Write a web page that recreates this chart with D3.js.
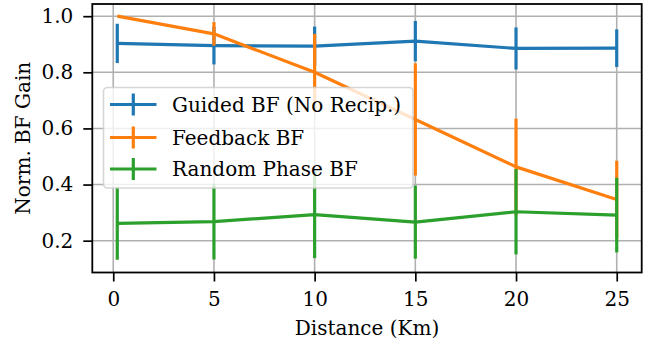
<!DOCTYPE html>
<html>
<head>
<meta charset="utf-8">
<script src="https://cdn.jsdelivr.net/npm/d3@7"></script>
<style>
  body { margin: 0; background: #fff; }
  svg { display: block; }
  svg text { font-family: "DejaVu Serif", serif !important; }
</style>
</head>
<body>
<div id="chart"></div>
<script>
// Data
const distances = [0.2, 5, 10, 15, 20, 25];
const xTicks = [0, 5, 10, 15, 20, 25];
const yTicks = [0.2, 0.4, 0.6, 0.8, 1.0];

const seriesNames = ["Guided BF (No Recip.)", "Feedback BF", "Random Phase BF"];
const seriesColors = ["#1f77b4", "#ff7f0e", "#2ca02c"];

const guidedMean = [0.903, 0.895, 0.893, 0.911, 0.885, 0.886];
const guidedErr = [0.070, 0.067, 0.070, 0.072, 0.075, 0.067];
const feedbackMean = [1.000, 0.937, 0.800, 0.632, 0.463, 0.347];
const feedbackErr = [0.000, 0.042, 0.137, 0.200, 0.172, 0.138];
const randomMean = [0.262, 0.268, 0.293, 0.266, 0.303, 0.291];
const randomErr = [0.130, 0.135, 0.155, 0.130, 0.152, 0.133];

const means = [guidedMean, feedbackMean, randomMean];
const errs = [guidedErr, feedbackErr, randomErr];

// layout
const W = 655, H = 345;
const plot = { left: 92.3, right: 641.7, top: 4, bottom: 272.5 };
const fontSize = 20;

const svg = d3.select("#chart").append("svg")
  .attr("width", W)
  .attr("height", H);

const x = d3.scaleLinear().domain([-1.04, 26.24]).range([plot.left, plot.right]);
const y = d3.scaleLinear().domain([0.0866, 1.0434]).range([plot.bottom, plot.top]);

// grid
const grid = svg.append("g");
grid.selectAll(".gx").data(xTicks).join("line")
  .attr("x1", d => x(d)).attr("x2", d => x(d))
  .attr("y1", plot.top).attr("y2", plot.bottom)
  .attr("stroke", "#b0b0b0").attr("stroke-width", 1.6);
grid.selectAll(".gy").data(yTicks).join("line")
  .attr("x1", plot.left).attr("x2", plot.right)
  .attr("y1", d => y(d)).attr("y2", d => y(d))
  .attr("stroke", "#b0b0b0").attr("stroke-width", 1.6);

// series with error bars
const line = d3.line().x(d => x(d[0])).y(d => y(d[1]));
means.forEach((m, si) => {
  const g = svg.append("g");
  const pts = distances.map((d, i) => [d, m[i], errs[si][i]]);
  g.append("path")
    .attr("d", line(pts))
    .attr("fill", "none")
    .attr("stroke", seriesColors[si])
    .attr("stroke-width", 3.2)
    .attr("stroke-linejoin", "round");
  g.selectAll("line").data(pts.filter(p => p[2] > 0)).join("line")
    .attr("x1", d => x(d[0])).attr("x2", d => x(d[0]))
    .attr("y1", d => y(d[1] - d[2])).attr("y2", d => y(d[1] + d[2]))
    .attr("stroke", seriesColors[si])
    .attr("stroke-width", 3.2);
});

// axes
const xAxis = svg.append("g")
  .attr("transform", `translate(0,${plot.bottom})`)
  .call(d3.axisBottom(x).tickValues(xTicks).tickSize(9).tickPadding(10).tickFormat(d3.format("d")));
const yAxis = svg.append("g")
  .attr("transform", `translate(${plot.left},0)`)
  .call(d3.axisLeft(y).tickValues(yTicks).tickSize(9).tickPadding(10).tickFormat(d3.format(".1f")));

[xAxis, yAxis].forEach(a => {
  a.attr("font-family", null).attr("font-size", null);
  a.select(".domain").remove();
  a.selectAll(".tick line").attr("stroke", "#000").attr("stroke-width", 1.7);
  a.selectAll(".tick text")
    .style("font-size", fontSize + "px")
    .attr("fill", "#000");
});

// spines
svg.append("rect")
  .attr("x", plot.left).attr("y", plot.top)
  .attr("width", plot.right - plot.left)
  .attr("height", plot.bottom - plot.top)
  .attr("fill", "none")
  .attr("stroke", "#000")
  .attr("stroke-width", 1.8);

// axis labels
svg.append("text")
  .attr("x", (plot.left + plot.right) / 2)
  .attr("y", 335)
  .attr("text-anchor", "middle")
  .style("font-size", fontSize + "px")
  .text("Distance (Km)");

svg.append("text")
  .attr("transform", `translate(30,${(plot.top + plot.bottom) / 2}) rotate(-90)`)
  .attr("text-anchor", "middle")
  .style("font-size", fontSize + "px")
  .text("Norm. BF Gain");

// legend
const legend = svg.append("g");
legend.append("rect")
  .attr("x", 103.5).attr("y", 87.5)
  .attr("width", 309.5).attr("height", 100.5)
  .attr("rx", 4)
  .attr("fill", "#fff").attr("fill-opacity", 0.8)
  .attr("stroke", "#cccccc").attr("stroke-opacity", 0.8)
  .attr("stroke-width", 1.6);

const rowY = [104.5, 137.5, 169];
seriesNames.forEach((name, i) => {
  const ry = rowY[i];
  legend.append("line")
    .attr("x1", 110).attr("x2", 156.5)
    .attr("y1", ry).attr("y2", ry)
    .attr("stroke", seriesColors[i]).attr("stroke-width", 3.2);
  legend.append("line")
    .attr("x1", 133.3).attr("x2", 133.3)
    .attr("y1", ry - 11).attr("y2", ry + 11)
    .attr("stroke", seriesColors[i]).attr("stroke-width", 3.2);
  legend.append("text")
    .attr("x", 172)
    .attr("y", ry + 7)
    .style("font-size", fontSize + "px")
    .text(name);
});
</script>
</body>
</html>
